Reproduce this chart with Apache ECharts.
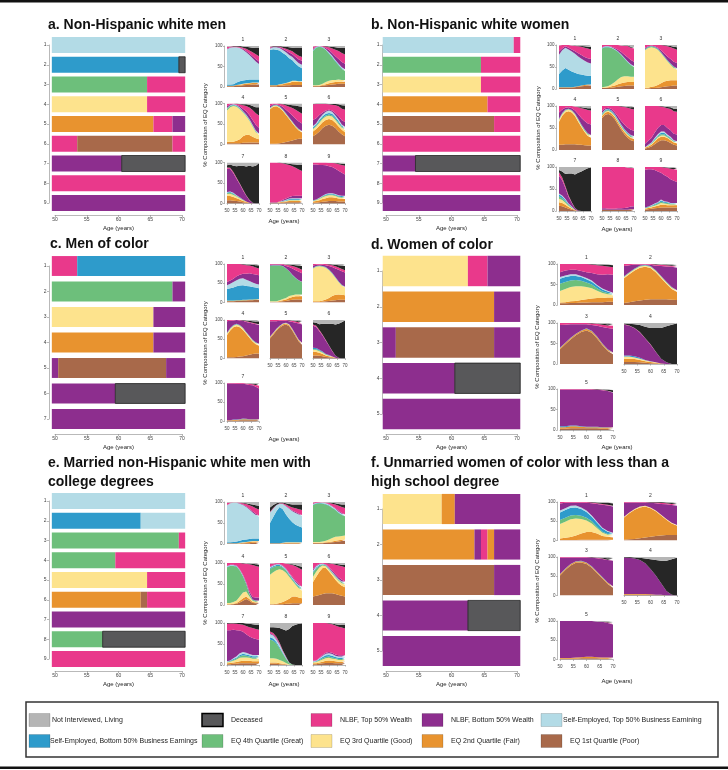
<!DOCTYPE html>
<html><head><meta charset="utf-8">
<script src="https://cdn.jsdelivr.net/npm/echarts@6/dist/echarts.min.js"></script>
<style>html,body{margin:0;padding:0;background:#fff}#c{width:728px;height:770px}</style>
</head><body><div id="c"></div>
<script>
// ---------------- DATA ----------------
const AGES = [50,52,54,56,58,60,62,64,66,68,70];
const AGE_AXIS = ['50','51','52','53','54','55','56','57','58','59','60','61','62','63','64','65','66','67','68','69','70'];
const STATES = ['poor','fair','good','great','seB','seT','nlbfB','nlbfT','dec','ni'];
const Z = [0,0,0,0,0,0,0,0,0,0,0];

// Sequence (left) panels: [row, startAge, endAge, state]
const SEQ_A = [[1,49.5,70.5,'seT'],[2,49.5,69.5,'seB'],[2,69.5,70.5,'dec'],[3,49.5,64.5,'great'],[3,64.5,70.5,'nlbfT'],[4,49.5,64.5,'good'],[4,64.5,70.5,'nlbfT'],[5,49.5,65.5,'fair'],[5,65.5,68.5,'nlbfT'],[5,68.5,70.5,'nlbfB'],[6,49.5,53.5,'nlbfT'],[6,53.5,68.5,'poor'],[6,68.5,70.5,'nlbfT'],[7,49.5,60.5,'nlbfB'],[7,60.5,70.5,'dec'],[8,49.5,70.5,'nlbfT'],[9,49.5,70.5,'nlbfB']];
const SEQ_B = [[1,49.5,69.5,'seT'],[1,69.5,70.5,'nlbfT'],[2,49.5,64.5,'great'],[2,64.5,70.5,'nlbfT'],[3,49.5,64.5,'good'],[3,64.5,70.5,'nlbfT'],[4,49.5,65.5,'fair'],[4,65.5,70.5,'nlbfT'],[5,49.5,66.5,'poor'],[5,66.5,70.5,'nlbfT'],[6,49.5,70.5,'nlbfT'],[7,49.5,54.5,'nlbfB'],[7,54.5,70.5,'dec'],[8,49.5,70.5,'nlbfT'],[9,49.5,70.5,'nlbfB']];
const SEQ_C = [[1,49.5,53.5,'nlbfT'],[1,53.5,70.5,'seB'],[2,49.5,68.5,'great'],[2,68.5,70.5,'nlbfB'],[3,49.5,65.5,'good'],[3,65.5,70.5,'nlbfB'],[4,49.5,65.5,'fair'],[4,65.5,70.5,'nlbfB'],[5,49.5,50.5,'nlbfB'],[5,50.5,67.5,'poor'],[5,67.5,70.5,'nlbfB'],[6,49.5,59.5,'nlbfB'],[6,59.5,70.5,'dec'],[7,49.5,70.5,'nlbfB']];
const SEQ_D = [[1,49.5,62.5,'good'],[1,62.5,65.5,'nlbfT'],[1,65.5,70.5,'nlbfB'],[2,49.5,66.5,'fair'],[2,66.5,70.5,'nlbfB'],[3,49.5,51.5,'nlbfB'],[3,51.5,66.5,'poor'],[3,66.5,70.5,'nlbfB'],[4,49.5,60.5,'nlbfB'],[4,60.5,70.5,'dec'],[5,49.5,70.5,'nlbfB']];
const SEQ_E = [[1,49.5,70.5,'seT'],[2,49.5,63.5,'seB'],[2,63.5,70.5,'seT'],[3,49.5,69.5,'great'],[3,69.5,70.5,'nlbfT'],[4,49.5,59.5,'great'],[4,59.5,70.5,'nlbfT'],[5,49.5,64.5,'good'],[5,64.5,70.5,'nlbfT'],[6,49.5,63.5,'fair'],[6,63.5,64.5,'poor'],[6,64.5,70.5,'nlbfT'],[7,49.5,70.5,'nlbfB'],[8,49.5,57.5,'great'],[8,57.5,70.5,'dec'],[9,49.5,70.5,'nlbfT']];
const SEQ_F = [[1,49.5,58.5,'good'],[1,58.5,60.5,'fair'],[1,60.5,70.5,'nlbfB'],[2,49.5,63.5,'fair'],[2,63.5,64.5,'nlbfB'],[2,64.5,65.5,'nlbfT'],[2,65.5,66.5,'fair'],[2,66.5,70.5,'nlbfB'],[3,49.5,66.5,'poor'],[3,66.5,70.5,'nlbfB'],[4,49.5,62.5,'nlbfB'],[4,62.5,70.5,'dec'],[5,49.5,70.5,'nlbfB']];

// Composition panels: one array per state, in STATES order (bottom to top), % at AGES
const A1 = [[2,2,2,3,3,4,5,5,6,6,6],[1,1,1,2,2,3,3,4,4,4,4],[0,0,0,0,1,1,1,1,1,1,1],Z,[3,3,4,6,8,8,8,8,7,7,7],[86,90,90,86,81,75,68,60,52,44,38],[1,1,0,0,1,2,3,4,5,6,6],[5,2,2,2,2,3,5,7,10,12,13],[0,0,1,1,2,3,5,8,11,15,20],[2,1,0,0,0,1,2,3,4,5,5]];
const A2 = [[2,2,2,3,3,4,4,5,5,5,5],[2,2,2,3,4,5,6,8,8,7,7],[0,0,0,1,1,1,2,2,2,2,2],Z,[86,88,87,82,75,68,58,50,42,36,32],[4,5,6,6,7,7,8,8,8,8,8],[2,1,1,2,3,4,6,7,8,9,10],[2,1,1,2,3,4,6,7,8,9,9],[0,1,1,1,3,5,7,9,14,19,22],[2,0,0,0,1,2,3,4,5,5,5]];
const A3 = [[2,2,2,3,4,5,6,7,8,8,8],[1,1,1,2,3,4,5,5,5,5,5],[1,1,2,3,5,6,6,5,5,4,4],[84,92,93,88,78,66,55,45,35,27,22],[1,1,1,1,1,2,2,2,2,2,2],[1,1,1,1,1,2,2,2,2,2,2],[3,1,0,1,3,5,7,9,11,13,14],[6,1,0,1,4,7,11,16,20,22,22],[0,0,0,0,1,2,4,6,8,12,16],[1,0,0,0,0,1,2,3,4,5,5]];
const A4 = [[3,3,3,3,3,4,4,5,5,5,5],[4,4,4,6,10,16,20,18,14,10,8],[76,84,87,83,73,58,45,35,25,15,10],[4,3,2,2,2,2,2,2,2,2,2],[1,1,1,1,1,1,1,1,1,1,1],[1,1,1,1,1,1,1,1,1,1,1],[4,2,1,1,3,5,8,10,12,14,14],[6,2,1,2,5,9,13,18,24,28,30],[0,0,0,1,1,2,4,7,10,15,20],[1,0,0,0,1,2,2,3,6,9,9]];
const A5 = [[2,2,2,3,4,6,8,10,12,14,14],[84,90,91,86,78,66,54,42,30,20,15],[2,2,2,2,2,2,2,2,2,2,2],[1,1,1,1,1,1,1,1,1,1,1],[1,1,1,1,1,1,1,1,1,1,1],Z,[4,2,1,3,6,9,12,15,17,18,18],[5,2,2,3,6,10,14,18,22,24,24],[0,0,0,1,1,3,5,7,10,13,17],[1,0,0,0,1,2,3,4,5,7,8]];
const A6 = [[20,25,32,40,46,48,46,40,32,25,20],[12,13,14,14,14,14,14,13,12,11,10],[5,6,7,8,8,8,8,7,6,5,5],[2,2,3,3,3,3,3,3,3,2,2],[3,3,4,4,4,4,4,4,4,3,3],[3,3,4,4,5,6,5,4,4,3,3],[15,12,8,5,3,2,3,5,8,10,12],[38,35,27,21,16,13,14,20,24,28,30],[1,1,1,1,1,1,2,3,5,9,10],[1,0,0,0,0,1,1,1,2,4,5]];
const A7 = [[8,8,7,6,5,3,2,1,0,0,0],[10,10,9,7,5,3,2,1,0,0,0],[5,6,5,4,3,2,1,0,0,0,0],[2,2,2,1,1,1,0,0,0,0,0],[2,2,2,1,1,1,0,0,0,0,0],[1,1,1,1,0,0,0,0,0,0,0],[57,55,48,40,32,22,14,6,2,0,0],[3,3,3,3,2,2,1,1,0,0,0],[5,8,15,28,43,58,70,83,88,92,98],[7,5,8,9,8,8,10,8,10,8,2]];
const A8 = [[1,1,1,2,2,3,3,3,3,3,3],[1,1,1,1,2,2,3,3,3,3,3],[0,0,0,1,1,1,2,2,2,2,2],[0,0,0,0,0,1,1,1,1,1,1],[0,0,0,0,1,1,2,2,2,2,2],[0,0,0,0,1,1,1,2,2,2,2],[1,1,1,1,2,3,4,5,6,6,6],[97,97,97,94,89,84,78,73,68,64,60],[0,0,0,1,1,2,3,5,8,11,15],[0,0,0,0,1,2,3,4,5,6,6]];
const A9 = [[2,2,3,4,5,6,6,6,5,5,5],[3,4,5,7,8,9,9,8,7,6,6],[1,2,3,4,5,5,5,4,3,3,3],[1,1,1,2,2,2,2,2,2,2,2],[1,1,1,1,2,2,2,2,2,2,2],[0,0,1,1,1,1,1,1,1,1,1],[87,85,80,75,70,66,64,62,60,56,52],[5,5,6,6,7,8,10,13,16,19,21],[0,0,0,0,0,0,0,1,2,3,5],[0,0,0,0,0,1,1,1,2,3,3]];

const B1 = [[3,3,3,3,3,4,5,6,7,8,8],[1,1,1,1,1,1,1,2,2,2,2],Z,Z,[30,38,44,40,36,32,28,25,22,20,20],[44,46,46,46,45,43,40,36,33,30,28],[7,4,3,4,5,6,7,8,9,10,10],[14,8,3,6,9,12,16,19,21,22,22],[0,0,0,0,0,1,1,2,3,4,6],[1,0,0,0,1,1,2,2,3,4,4]];
const B2 = [[2,2,2,3,4,5,6,7,8,8,8],[1,1,2,3,4,6,7,8,8,8,8],[1,2,3,5,8,11,14,14,13,12,12],[88,90,88,82,73,62,50,40,32,26,22],[1,1,1,1,1,1,1,1,1,1,1],[1,1,1,1,1,1,1,1,1,1,1],[1,1,1,1,2,3,5,7,9,10,10],[5,2,2,4,7,11,15,20,26,28,30],[0,0,0,0,0,0,0,1,1,2,3],[0,0,0,0,0,0,1,1,2,4,5]];
const B3 = [[1,1,2,2,3,4,5,6,7,8,8],[2,2,3,4,6,9,12,13,13,12,12],[85,90,90,87,80,68,55,44,35,28,24],[2,2,2,2,2,2,2,2,2,2,2],[1,1,1,1,1,1,1,1,1,1,1],Z,[2,1,1,1,2,4,6,8,10,11,12],[7,3,1,3,6,12,18,23,27,30,30],[0,0,0,0,0,0,1,2,3,4,6],[0,0,0,0,0,0,0,1,2,4,5]];
const B4 = [[12,12,13,13,13,13,12,12,11,10,10],[52,66,73,75,72,64,52,40,30,22,18],[5,4,4,4,4,4,4,3,3,3,3],[1,1,1,1,1,1,2,2,2,2,2],[1,1,1,1,1,1,1,1,1,1,1],Z,[14,8,4,3,4,7,11,15,19,22,24],[15,8,4,3,5,9,15,22,27,31,32],[0,0,0,0,0,0,1,2,3,4,5],[0,0,0,0,0,1,2,3,4,5,5]];
const B5 = [[72,80,82,78,70,58,46,36,28,22,20],[5,5,5,5,5,5,5,5,5,5,5],[2,2,2,2,2,2,2,2,2,2,2],[2,2,2,2,2,2,2,2,2,2,2],[2,2,2,2,2,2,2,2,2,2,2],[1,1,1,1,1,1,1,1,1,1,1],[5,3,2,3,4,6,8,10,11,12,12],[11,5,4,7,14,24,33,40,45,48,48],[0,0,0,0,0,0,1,1,2,3,5],[0,0,0,0,0,0,0,1,2,3,3]];
const B6 = [[3,5,8,13,18,22,22,20,16,12,10],[2,3,4,6,8,8,8,7,6,5,5],[1,1,2,2,3,3,3,2,2,2,2],[0,1,1,2,2,3,3,2,2,1,1],[0,1,1,2,2,3,3,2,2,1,1],[0,1,1,2,3,3,3,2,2,1,1],[8,9,10,12,14,15,15,15,15,15,15],[86,79,73,61,50,42,40,45,48,51,52],[0,0,0,0,0,1,2,3,4,6,7],[0,0,0,0,0,0,1,2,3,6,6]];
const B7 = [[12,11,8,5,3,1,0,0,0,0,0],[8,7,6,4,2,1,0,0,0,0,0],[8,7,5,3,2,1,0,0,0,0,0],[5,4,3,2,1,0,0,0,0,0,0],[5,4,3,2,1,0,0,0,0,0,0],[2,2,2,1,1,0,0,0,0,0,0],[40,35,25,15,8,3,1,0,0,0,0],[8,6,4,3,2,1,0,0,0,0,0],[5,14,28,50,65,76,86,90,94,97,99],[7,10,16,15,15,17,13,10,6,3,1]];
const B8 = [[2,2,2,2,2,2,2,2,2,3,3],[1,1,1,1,1,1,1,1,1,1,1],Z,Z,Z,Z,[3,3,2,2,2,3,3,4,5,6,7],[94,94,95,95,95,94,94,93,91,88,86],[0,0,0,0,0,0,0,0,0,1,1],[0,0,0,0,0,0,0,0,1,1,2]];
const B9 = [[3,4,5,6,7,8,8,8,8,8,8],[2,3,3,4,5,6,6,5,5,5,5],[1,1,2,2,3,4,3,3,2,2,2],[1,1,1,2,2,3,2,2,1,1,1],[1,1,1,2,2,3,2,2,1,1,1],[0,0,1,1,1,2,1,1,1,1,1],[86,85,82,76,70,61,60,57,54,51,48],[6,5,5,7,10,13,17,20,24,26,28],[0,0,0,0,0,0,1,1,2,3,4],[0,0,0,0,0,0,0,1,2,2,2]];

const C1 = [[3,3,3,4,4,5,5,6,6,7,7],[1,1,1,1,1,1,1,1,1,1,1],Z,[1,1,1,1,1,1,1,1,1,1,1],[30,32,34,36,38,38,36,34,32,30,28],[10,12,14,16,18,18,16,14,12,10,10],[8,8,9,10,10,12,16,20,22,24,24],[47,43,38,32,28,24,22,20,20,18,17],[0,0,0,0,0,1,2,3,4,6,8],[0,0,0,0,0,0,1,1,2,3,4]];
const C2 = [[1,1,1,2,3,4,6,7,8,8,8],[1,1,1,2,3,4,6,7,8,8,8],[1,1,1,2,3,4,5,5,5,5,5],[92,93,93,90,85,76,64,52,42,36,32],[1,1,1,1,1,1,1,1,1,1,1],Z,[2,2,2,2,3,6,10,16,20,22,22],[2,1,1,1,2,3,5,7,8,9,9],[0,0,0,0,0,1,2,3,5,7,10],[0,0,0,0,0,1,1,2,3,4,5]];
const C3 = [[1,1,1,2,3,4,5,6,7,7,7],[2,2,2,3,5,8,12,14,14,13,12],[85,90,91,88,82,72,58,44,32,24,20],[1,1,1,1,1,1,1,1,1,1,1],[1,1,1,1,1,1,1,1,1,1,1],Z,[6,3,2,3,5,9,15,22,30,35,37],[4,2,2,2,3,4,5,6,6,6,6],[0,0,0,0,0,1,2,4,6,9,11],[0,0,0,0,0,0,1,2,3,4,5]];
const C4 = [[3,3,3,4,5,6,8,10,12,13,13],[58,70,78,80,76,68,56,44,32,24,20],[4,4,4,4,4,4,3,3,3,3,3],[1,1,1,1,1,1,1,1,1,1,1],[1,1,1,1,1,1,1,1,1,1,1],Z,[30,19,12,10,12,18,26,34,42,47,49],[3,2,1,0,1,1,2,2,2,2,2],[0,0,0,0,0,1,2,3,4,5,7],[0,0,0,0,0,0,1,2,3,4,4]];
const C5 = [[52,62,72,80,86,88,84,72,58,44,36],[3,3,3,3,3,3,3,3,3,3,3],[1,1,1,1,1,1,1,1,1,1,1],Z,[1,1,1,1,1,1,1,1,1,1,1],Z,[40,30,20,13,7,5,8,18,30,42,47],[3,3,3,2,2,2,2,3,3,3,3],[0,0,0,0,0,0,1,1,2,3,5],[0,0,0,0,0,0,0,1,2,3,4]];
const C6 = [[8,8,7,6,4,3,2,1,0,0,0],[10,9,8,6,4,3,2,1,0,0,0],[5,5,4,3,2,1,1,0,0,0,0],[2,2,2,1,1,1,0,0,0,0,0],[3,3,2,2,1,1,0,0,0,0,0],Z,[57,55,48,42,34,24,14,6,2,0,0],[3,3,3,2,2,1,1,0,0,0,0],[6,8,15,28,42,56,70,80,88,94,99],[6,7,11,10,10,10,10,12,10,6,1]];
const C7 = [[2,2,2,2,3,3,3,3,3,3,3],[1,1,2,2,2,3,3,2,2,2,2],Z,Z,[0,0,1,1,1,2,1,1,1,1,1],Z,[96,96,94,93,92,90,90,89,88,84,80],[1,1,1,2,2,2,2,3,3,5,7],[0,0,0,0,0,0,0,1,1,3,5],[0,0,0,0,0,0,1,1,2,2,2]];

const D1 = [[4,4,5,5,6,6,7,7,7,8,8],[2,3,4,5,6,8,9,10,10,10,10],[28,32,35,36,34,30,25,18,12,8,5],[18,17,16,15,13,11,9,6,4,3,2],[12,12,11,10,9,8,7,6,5,4,3],[4,4,4,4,3,3,3,2,2,2,2],[12,12,11,11,12,14,18,26,34,40,44],[20,16,14,14,17,20,21,22,22,19,18],[0,0,0,0,0,0,1,2,3,4,5],[0,0,0,0,0,0,0,1,1,2,3]];
const D2 = [[5,7,9,11,13,14,14,14,14,13,12],[60,68,75,80,80,76,66,52,38,26,20],[3,3,3,3,3,3,3,3,3,3,2],[1,1,1,1,1,1,1,1,1,1,1],[1,1,1,1,1,1,1,1,1,1,1],Z,[25,17,10,3,1,3,11,24,37,49,55],[5,3,1,1,1,2,3,3,3,3,3],[0,0,0,0,0,0,1,1,2,2,3],[0,0,0,0,0,0,0,1,1,2,3]];
const D3 = [[36,48,60,70,78,82,76,62,46,32,24],[3,3,3,3,3,4,4,4,3,3,3],Z,Z,[1,1,1,1,1,1,1,1,1,1,1],Z,[55,44,33,23,15,10,14,26,40,52,58],[5,4,3,3,3,3,4,5,6,6,7],[0,0,0,0,0,0,1,1,2,3,4],[0,0,0,0,0,0,0,1,2,3,3]];
const D4 = [[5,5,5,4,3,2,1,0,0,0,0],[8,8,7,6,4,3,2,1,0,0,0],[5,5,4,3,2,1,1,0,0,0,0],Z,[3,3,3,2,1,1,0,0,0,0,0],Z,[75,72,68,62,52,40,25,12,4,0,0],[1,1,1,1,1,1,1,0,0,0,0],[2,4,9,17,28,40,58,75,88,96,99],[1,2,3,5,9,12,12,12,8,4,1]];
const D5 = [[3,3,4,4,4,4,4,4,3,3,3],[4,4,5,5,4,3,3,3,3,3,3],Z,Z,[2,2,2,2,1,1,1,1,1,1,1],Z,[90,90,88,88,90,91,91,90,90,88,84],[1,1,1,1,1,1,1,1,1,1,1],[0,0,0,0,0,0,0,1,1,2,5],[0,0,0,0,0,0,0,0,1,2,3]];

const E1 = [[1,1,1,1,1,1,2,2,3,3,3],[1,1,1,1,1,2,2,3,3,3,3],[0,0,0,0,1,1,1,1,1,1,1],Z,[2,2,3,4,5,6,6,6,6,6,6],[88,93,93,92,88,83,77,70,62,56,52],[1,0,0,0,1,1,2,2,3,3,3],[5,2,1,1,2,3,5,8,11,13,14],[0,0,0,0,0,1,2,3,5,7,9],[2,1,1,1,1,2,3,5,6,8,9]];
const E2 = [[1,1,1,1,1,1,1,1,1,1,1],[1,1,1,1,1,2,2,2,2,2,2],[0,0,0,0,1,1,1,1,1,1,1],Z,[48,62,76,86,80,66,56,48,42,38,35],[25,20,14,8,12,20,24,26,28,28,28],[0,0,0,0,0,1,1,2,2,2,2],[2,2,1,1,2,3,5,7,9,11,12],[10,7,4,2,2,3,5,7,9,11,13],[13,7,3,1,1,3,5,6,6,6,6]];
const E3 = [[2,2,2,2,3,3,4,5,6,7,8],[1,1,1,1,1,2,2,3,3,3,3],[2,2,2,3,4,6,8,9,9,9,9],[88,91,92,90,86,80,72,64,56,50,46],[1,1,1,1,1,1,1,1,1,1,1],[1,1,1,1,2,2,2,2,2,2,2],[0,0,0,0,0,1,1,1,2,2,2],[4,2,1,1,2,3,6,9,12,14,15],[0,0,0,0,0,1,2,3,4,6,8],[1,0,0,1,1,1,2,3,5,6,6]];
const E4 = [[1,1,2,3,6,10,14,10,5,4,4],[1,1,1,2,4,6,6,4,2,2,2],[3,3,4,6,10,14,12,6,3,2,2],[85,88,86,80,62,38,18,6,2,2,2],[1,1,1,1,1,1,1,1,1,1,1],[1,1,1,1,1,1,1,1,0,0,0],[1,1,1,1,1,2,3,5,6,7,7],[7,4,4,6,15,27,43,64,76,75,73],[0,0,0,0,0,1,1,2,3,4,5],[0,0,0,0,0,0,1,1,2,3,4]];
const E5 = [[1,1,1,2,2,3,3,4,4,4,4],[1,1,2,3,5,8,12,16,16,14,12],[70,76,80,80,76,66,52,38,28,22,18],[14,12,10,8,6,5,4,3,3,3,3],[2,2,2,2,2,2,2,2,2,2,2],[2,2,2,2,2,2,2,2,2,2,2],[1,1,1,1,1,1,2,2,3,3,3],[7,4,2,2,6,12,20,28,34,38,40],[0,0,0,0,0,0,1,2,3,5,7],[2,1,0,0,0,1,2,3,5,7,9]];
const E6 = [[20,22,24,26,28,28,28,26,24,22,20],[35,45,55,62,60,52,42,34,28,24,22],[12,12,10,6,4,4,5,6,6,6,6],[10,8,4,2,2,2,2,2,2,2,2],[2,2,2,1,1,1,1,1,1,1,1],[3,3,2,1,1,1,1,1,1,1,1],[4,2,1,1,1,2,3,4,4,4,4],[14,6,2,1,3,9,16,22,28,32,34],[0,0,0,0,0,1,1,2,3,4,5],[0,0,0,0,0,0,1,2,3,4,5]];
const E7 = [[2,2,3,3,4,4,4,4,4,4,4],[2,3,3,4,5,6,6,6,5,5,5],[2,3,4,6,8,8,8,7,6,6,6],[1,1,2,3,4,5,4,3,3,3,3],[1,1,2,2,3,4,3,3,3,3,3],[1,1,2,3,4,4,4,3,3,3,3],[74,72,68,62,54,48,44,42,40,38,36],[15,16,15,15,15,17,20,22,24,24,24],[2,1,1,2,3,4,6,8,9,10,11],[0,0,0,0,0,0,1,2,3,4,5]];
const E8 = [[3,3,3,2,1,1,0,0,0,0,0],[3,3,3,2,2,1,0,0,0,0,0],[10,10,9,8,6,3,1,0,0,0,0],[45,42,36,28,18,10,4,1,0,0,0],[5,5,4,3,2,1,0,0,0,0,0],[8,7,6,5,3,2,1,0,0,0,0],[2,2,2,2,1,1,0,0,0,0,0],[4,4,4,3,2,1,0,0,0,0,0],[10,14,22,35,50,62,80,92,96,98,99],[10,10,11,12,15,18,14,7,4,2,1]];
const E9 = [[2,2,3,4,5,5,5,4,4,4,4],[2,2,3,4,5,6,5,5,4,4,4],[2,3,4,5,6,6,5,5,4,4,4],[1,1,2,3,3,3,3,2,2,2,2],[1,1,2,3,4,4,4,3,3,3,3],[1,1,2,3,4,4,4,3,3,3,3],[1,1,1,2,2,3,3,3,3,3,3],[90,89,83,76,71,68,68,69,68,66,64],[0,0,0,0,0,1,2,3,5,6,8],[0,0,0,0,0,0,1,3,4,5,5]];

const F1 = [[1,1,1,1,2,2,2,2,2,2,2],[4,6,8,12,16,20,20,16,10,8,6],[38,42,46,44,38,30,22,14,8,5,4],[10,10,10,9,8,7,6,4,3,2,2],[20,20,20,20,18,15,12,10,8,6,5],[5,5,5,5,4,4,3,3,2,2,1],[18,14,8,7,12,20,32,46,60,66,68],[4,2,2,2,2,2,2,2,2,2,2],[0,0,0,0,0,0,1,2,3,5,6],[0,0,0,0,0,0,0,1,2,2,4]];
const F2 = [[2,3,4,6,8,10,12,13,14,14,14],[58,68,76,80,80,74,64,52,40,30,24],[2,2,2,2,2,2,2,2,2,2,2],Z,Z,Z,[36,26,17,11,9,12,19,28,38,46,50],[2,1,1,1,1,1,2,3,3,3,3],[0,0,0,0,0,1,1,2,2,3,4],[0,0,0,0,0,0,0,0,1,2,3]];
const F3 = [[52,66,78,85,86,82,72,58,44,30,20],[3,3,3,3,3,3,3,3,3,3,3],Z,Z,[1,1,1,1,1,1,1,1,1,1,1],Z,[42,29,17,10,9,13,22,35,47,58,66],[2,1,1,1,1,1,1,1,1,1,1],[0,0,0,0,0,0,1,1,2,4,5],[0,0,0,0,0,0,0,1,2,3,4]];
const F4 = [[2,2,2,2,2,1,1,1,0,0,0],[2,2,2,2,2,2,1,1,0,0,0],Z,Z,Z,Z,[95,94,92,88,80,66,50,30,12,2,0],Z,[1,2,3,6,12,25,40,58,78,92,98],[0,0,1,2,4,6,8,10,10,6,2]];
const F5 = [[2,2,2,2,3,3,3,3,2,2,2],[2,2,2,3,3,4,4,3,3,3,3],Z,Z,Z,Z,[96,96,96,95,94,93,93,93,93,90,86],[0,0,0,0,0,0,0,0,0,1,1],[0,0,0,0,0,0,0,0,1,2,5],[0,0,0,0,0,0,0,1,1,2,3]];

const LEGEND_ROW1 = [['ni','Not Interviewed, Living'],['dec','Deceased'],['nlbfT','NLBF, Top 50% Wealth'],['nlbfB','NLBF, Bottom 50% Wealth'],['seT','Self-Employed, Top 50% Business Earnining']];
const LEGEND_ROW2 = [['seB','Self-Employed, Bottom 50% Business Earnings'],['great','EQ 4th Quartile (Great)'],['good','EQ 3rd Quartile (Good)'],['fair','EQ 2nd Quartile (Fair)'],['poor','EQ 1st Quartile (Poor)']];

// ---------------- STYLE / LAYOUT ----------------
const FF = '"Liberation Sans", Arial, Helvetica, sans-serif';
const COL = {poor:'#a8694a', fair:'#e8932f', good:'#fde38d', great:'#6dbf7b', seB:'#2e9bcb', seT:'#b3dbe6', nlbfB:'#8d2e8e', nlbfT:'#e9398b', dec:'#262626', ni:'#b5b5b5'};
const LCOL = Object.assign({}, COL, {dec:'#58585a'});

const BLOCKS = [
 {title:['a. Non-Hispanic white men'], tx:48, ty:25.5, seq:SEQ_A, nrows:9,
  L:{x0:55,x1:182,y1:45,yN:203,frac:0.81,xoff:12,yoff:6},
  panels:[A1,A2,A3,A4,A5,A6,A7,A8,A9], ncol:3, cols:[227,270,313], pw:32, rowsY:[46,103.5,162.5], ph:41, ylab:[205,125], agel:[284,221]},
 {title:['b. Non-Hispanic white women'], tx:371, ty:25.5, seq:SEQ_B, nrows:9,
  L:{x0:386,x1:517,y1:45,yN:203,frac:0.81,xoff:12,yoff:4},
  panels:[B1,B2,B3,B4,B5,B6,B7,B8,B9], ncol:3, cols:[559,602,645], pw:32, rowsY:[45,106,167], ph:44, ylab:[538,128], agel:[617,229]},
 {title:['c. Men of color'], tx:50, ty:244, seq:SEQ_C, nrows:7,
  L:{x0:55,x1:182,y1:266,yN:419,frac:0.78,xoff:15,yoff:6},
  panels:[C1,C2,C3,C4,C5,C6,C7], ncol:3, cols:[227,270,313], pw:32, rowsY:[264,320,383], ph:38.5, ylab:[205,343], agel:[284,439]},
 {title:['d. Women of color'], tx:371, ty:245, seq:SEQ_D, nrows:5,
  L:{x0:386,x1:517,y1:271,yN:414,frac:0.85,xoff:20,yoff:4},
  panels:[D1,D2,D3,D4,D5], ncol:2, cols:[560,624], pw:53, rowsY:[264,323,389], ph:41, ylab:[537,347], agel:[617,447]},
 {title:['e. Married non-Hispanic white men with','college degrees'], tx:48, ty:463, seq:SEQ_E, nrows:9,
  L:{x0:55,x1:182,y1:501,yN:659,frac:0.81,xoff:12,yoff:6},
  panels:[E1,E2,E3,E4,E5,E6,E7,E8,E9], ncol:3, cols:[227,270,313], pw:32, rowsY:[502,563,623], ph:42, ylab:[205,583], agel:[284,684]},
 {title:['f. Unmarried women of color with less than a','high school degree'], tx:371, ty:463, seq:SEQ_F, nrows:5,
  L:{x0:386,x1:517,y1:509,yN:651,frac:0.85,xoff:20,yoff:4},
  panels:[F1,F2,F3,F4,F5], ncol:2, cols:[560,624], pw:53, rowsY:[502,557,621], ph:38.5, ylab:[537,581], agel:[617,681]}
];

// ---------------- BUILD ----------------
const grids=[], xAxes=[], yAxes=[], series=[], graphics=[];
const AX = {color:'#8a8a8a', width:0.6};

function txt(x,y,text,o){
  o=o||{};
  graphics.push({type:'text', x:x, y:y, rotation:o.rot||0, silent:true,
    style:{text:text, fontSize:o.size||6, fontFamily:FF, fontWeight:o.bold?'bold':'normal', fill:o.color||'#222',
      align:o.align||'center', verticalAlign:o.va||'middle', textAlign:o.align||'center', textVerticalAlign:o.va||'middle'}});
}

BLOCKS.forEach(B=>{
  B.title.forEach((t,i)=>txt(B.tx, B.ty+i*19.5, t, {size:14, bold:true, align:'left', color:'#111'}));
  // sequence panel
  const L=B.L, gi=grids.length;
  grids.push({left:L.x0, top:L.y1, width:L.x1-L.x0, height:L.yN-L.y1});
  xAxes.push({gridIndex:gi, type:'value', min:50, max:70, interval:5, offset:L.xoff,
    axisLine:{show:true, lineStyle:AX}, axisTick:{show:true, length:2, lineStyle:AX},
    axisLabel:{fontSize:5, color:'#444', margin:2.5, fontFamily:FF}, splitLine:{show:false},
    name:'Age (years)', nameLocation:'middle', nameGap:10, nameTextStyle:{fontSize:6, color:'#222', fontFamily:FF}});
  yAxes.push({gridIndex:gi, type:'value', min:1, max:B.nrows, interval:1, inverse:true, offset:L.yoff,
    axisLine:{show:true, lineStyle:AX}, axisTick:{show:true, length:2, lineStyle:AX},
    axisLabel:{fontSize:5, color:'#444', margin:2.5, fontFamily:FF}, splitLine:{show:false}});
  const frac=L.frac;
  series.push({type:'custom', xAxisIndex:gi, yAxisIndex:gi, clip:false, silent:true,
    dimensions:['row','start','end','state'], encode:{y:0, x:[1,2]},
    data:B.seq.map(s=>[s[0], s[1], s[2], STATES.indexOf(s[3])]),
    renderItem:function(params, api){
      const r=api.value(0), s=api.value(1), e=api.value(2), st=STATES[api.value(3)];
      const p0=api.coord([s,r]), p1=api.coord([e,r]);
      const h=api.size([0,1])[1]*frac;
      return {type:'rect', shape:{x:p0[0], y:p0[1]-h/2, width:p1[0]-p0[0], height:h},
        style:{fill:LCOL[st], stroke: st==='dec'?'#111':null, lineWidth: st==='dec'?0.7:0}};
    }});
  // composition panels (category age axis so stacking happens on the % dimension)
  const n=B.panels.length;
  B.panels.forEach((P,i)=>{
    const row=Math.floor(i/B.ncol), col=i%B.ncol;
    const gx=B.cols[col], gy=B.rowsY[row];
    const g=grids.length;
    grids.push({left:gx, top:gy, width:B.pw, height:B.ph});
    const showX = (i+B.ncol)>=n, showY = col===0;
    xAxes.push({gridIndex:g, type:'category', data:AGE_AXIS, boundaryGap:false, show:showX, offset:3,
      axisLine:{show:true, lineStyle:AX}, axisTick:{show:true, length:1.5, interval:4, lineStyle:AX},
      axisLabel:{fontSize:4.5, color:'#444', margin:2, interval:4, fontFamily:FF}, splitLine:{show:false}});
    yAxes.push({gridIndex:g, type:'value', min:0, max:100, interval:50, show:showY, offset:2.5,
      axisLine:{show:true, lineStyle:AX}, axisTick:{show:true, length:1.5, lineStyle:AX},
      axisLabel:{fontSize:4.5, color:'#444', margin:2, fontFamily:FF}, splitLine:{show:false}});
    STATES.forEach((st,k)=>{
      if (P[k] === Z) return; // state absent from this panel
      series.push({type:'line', xAxisIndex:g, yAxisIndex:g, stack:'p'+g, silent:true,
        symbol:'none', lineStyle:{width:0, opacity:0}, areaStyle:{color:COL[st], opacity:1},
        data:AGES.map((a,j)=>[AGE_AXIS.indexOf(String(a)), P[k][j]])});
    });
    txt(gx+B.pw/2, gy-6, String(i+1), {size:5, color:'#333'});
  });
  txt(B.ylab[0], B.ylab[1], '% Composition of EQ Category', {size:6, rot:Math.PI/2});
  txt(B.agel[0], B.agel[1], 'Age (years)', {size:6});
});

// frame lines
graphics.push({type:'rect', shape:{x:0,y:0,width:728,height:2.5}, style:{fill:'#111'}, silent:true});
graphics.push({type:'rect', shape:{x:0,y:766.5,width:728,height:2.5}, style:{fill:'#111'}, silent:true});
// legend
graphics.push({type:'rect', shape:{x:26,y:702,width:692,height:55}, style:{fill:'transparent', stroke:'#333', lineWidth:1.5}, silent:true});
const LSW=[29,202,311,422,541];
const LTX=[[52,231,340,451,563],[50,231,340,451,570]];
[LEGEND_ROW1, LEGEND_ROW2].forEach((rowItems,r)=>{
  const cy = r===0?720:741;
  rowItems.forEach((it,c)=>{
    const st=it[0];
    graphics.push({type:'rect', shape:{x:LSW[c], y:cy-6.5, width:21, height:13},
      style:{fill: st==='dec'?'#58585a':COL[st], stroke: st==='dec'?'#000':'rgba(0,0,0,0.25)', lineWidth: st==='dec'?1.5:0.6}, silent:true});
    txt(LTX[r][c], cy, it[1], {size:7, align:'left', color:'#222'});
  });
});

const chart = echarts.init(document.getElementById('c'), null, {renderer:'canvas'});
chart.setOption({animation:false, backgroundColor:'#fff', grid:grids, xAxis:xAxes, yAxis:yAxes, series:series, graphic:{elements:graphics}});
</script></body></html>
